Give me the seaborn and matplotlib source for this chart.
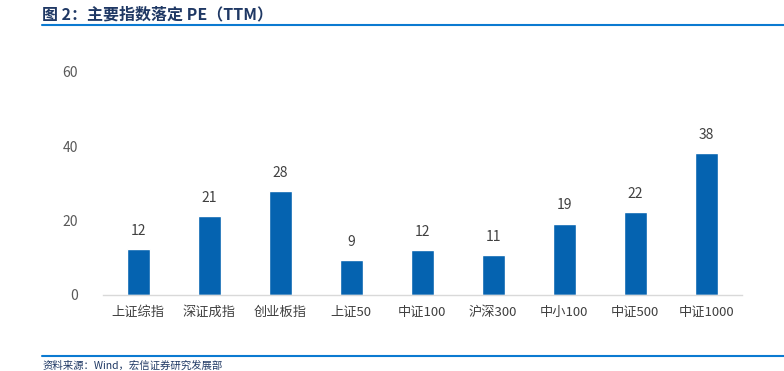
import matplotlib
matplotlib.use("Agg")
import matplotlib.pyplot as plt
import pandas as pd
import seaborn as sns

# data
indices = ["上证综指", "深证成指", "创业板指", "上证50", "中证100",
           "沪深300", "中小100", "中证500", "中证1000"]
pe_ttm = [12.4, 21.3, 27.9, 9.4, 12.1, 10.7, 19.2, 22.4, 38.3]
y_ticks = [0, 20, 40, 60]

title = "图 2：主要指数落定 PE（TTM）"
source = "资料来源：Wind，宏信证券研究发展部"

sns.set_theme(style="white")
plt.rcParams["font.family"] = ["Noto Sans CJK SC", "DejaVu Sans"]

df = pd.DataFrame({"index": indices, "pe": pe_ttm})

fig = plt.figure(figsize=(7.84, 3.71), dpi=100)
ax = fig.add_axes([0.131, 0.205, 0.815, 0.601])

sns.barplot(data=df, x="index", y="pe", color="#0563b0", width=0.32,
            saturation=1, ax=ax)
ax.bar_label(ax.containers[0], fmt="%.0f", padding=8, fontsize=10,
             color="#404040")

ax.set_ylim(0, 60)
ax.set_yticks(y_ticks)
ax.set_xlabel("")
ax.set_ylabel("")
ax.tick_params(axis="y", labelsize=10, labelcolor="#595959", pad=18, length=0)
ax.tick_params(axis="x", labelsize=9.5, labelcolor="#404040", pad=8, length=0)

sns.despine(ax=ax, left=True)
ax.spines["bottom"].set_color("#d9d9d9")
ax.spines["bottom"].set_linewidth(1)

# header and footer
fig.text(0.054, 0.962, title, fontsize=11.5, fontweight="bold",
         color="#1f3864", va="center", ha="left")
fig.add_artist(plt.Line2D([0.054, 1.0], [0.932, 0.932], color="#0b7ad1",
                          linewidth=1.5))
fig.add_artist(plt.Line2D([0.054, 1.0], [0.04, 0.04], color="#0b7ad1",
                          linewidth=1.5))
fig.text(0.054, 0.013, source, fontsize=7.5, color="#1f3864", va="center",
         ha="left")

fig.savefig("out.png", dpi=100)
